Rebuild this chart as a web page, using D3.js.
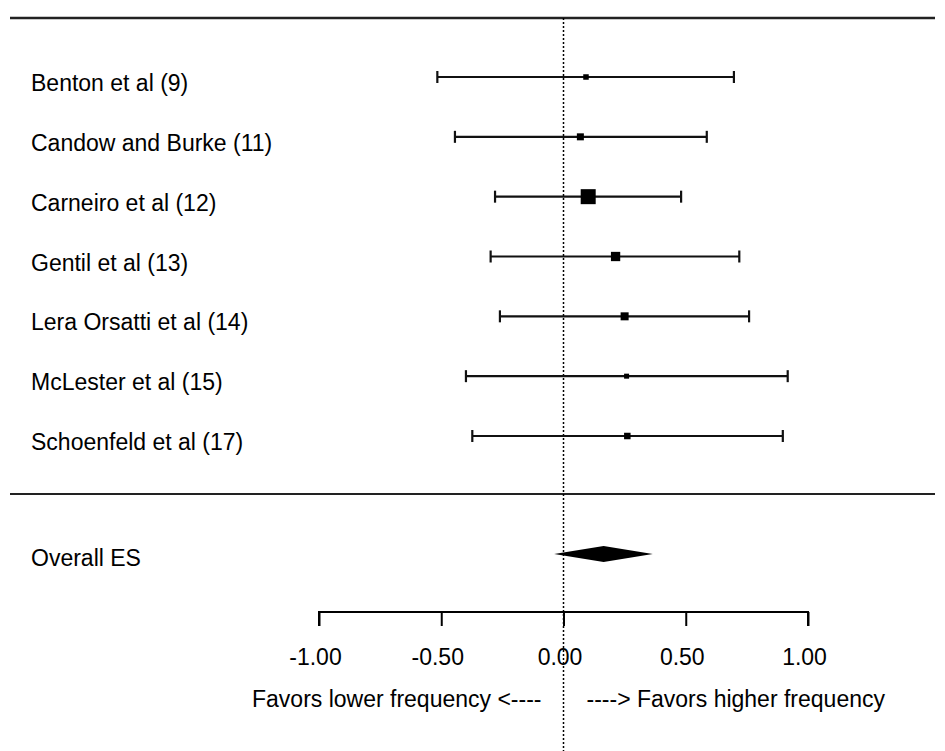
<!DOCTYPE html>
<html>
<head>
<meta charset="utf-8">
<script src="https://cdn.jsdelivr.net/npm/d3@7"></script>
<style>
  html, body { margin: 0; padding: 0; background: #fff; }
  svg { display: block; font-family: "Liberation Sans", Arial, sans-serif; }
</style>
</head>
<body>
<div id="forest"></div>
<script>
// study labels and effect sizes
const studies = ['Benton et al (9)', 'Candow and Burke (11)', 'Carneiro et al (12)', 'Gentil et al (13)',
                 'Lera Orsatti et al (14)', 'McLester et al (15)', 'Schoenfeld et al (17)'];
const estimates = [0.092, 0.069, 0.101, 0.213, 0.250, 0.258, 0.261];
const lowerCI   = [-0.516, -0.444, -0.280, -0.298, -0.260, -0.399, -0.373];
const upperCI   = [0.697, 0.586, 0.481, 0.719, 0.759, 0.917, 0.897];
// relative study weights (box size)
const weights   = [5.5, 7, 15, 9.3, 8, 5, 6.5];

// pooled estimate
const overallLabel = 'Overall ES';
const overall = { est: 0.164, lo: -0.038, hi: 0.365 };

const tickValues = [-1, -0.5, 0, 0.5, 1];
const favorsLeft = 'Favors lower frequency <----';
const favorsRight = '----> Favors higher frequency';

(function(){
  const W = 945, H = 751;
  const svg = d3.select('#forest').append('svg')
    .attr('width', W).attr('height', H).attr('viewBox', `0 0 ${W} ${H}`);

  const x = d3.scaleLinear().domain([-1, 1]).range([319, 808]);
  const y = d3.scalePoint().domain(studies).range([77, 436]);
  const box = d3.scaleLinear().domain([0, d3.max(weights)]).range([0, 15]);
  const yOverall = 554;
  const fs = 23;

  // horizontal rules
  svg.append('line').attr('x1', 10).attr('x2', 935).attr('y1', 18).attr('y2', 18)
    .attr('stroke', '#222').attr('stroke-width', 2.5);
  svg.append('line').attr('x1', 10).attr('x2', 935).attr('y1', 494).attr('y2', 494)
    .attr('stroke', '#222').attr('stroke-width', 2);

  // null effect reference line
  svg.append('line').attr('x1', x(0)).attr('x2', x(0)).attr('y1', 18).attr('y2', H)
    .attr('stroke', '#000').attr('stroke-width', 1.5).attr('stroke-dasharray', '2,2');

  // study labels
  svg.append('g').selectAll('text').data(studies).enter().append('text')
    .attr('x', 31).attr('y', d => y(d) + 14)
    .attr('font-size', fs).attr('fill', '#000')
    .text(d => d);

  // CI lines + caps + boxes
  const rows = svg.append('g').selectAll('g').data(studies).enter().append('g');
  rows.append('line')
    .attr('x1', (d, i) => x(lowerCI[i])).attr('x2', (d, i) => x(upperCI[i]))
    .attr('y1', d => y(d)).attr('y2', d => y(d))
    .attr('stroke', '#111').attr('stroke-width', 2.2);
  [lowerCI, upperCI].forEach(arr => {
    rows.append('line')
      .attr('x1', (d, i) => x(arr[i])).attr('x2', (d, i) => x(arr[i]))
      .attr('y1', d => y(d) - 6).attr('y2', d => y(d) + 6)
      .attr('stroke', '#111').attr('stroke-width', 2.2);
  });
  rows.append('rect')
    .attr('x', (d, i) => x(estimates[i]) - box(weights[i]) / 2)
    .attr('y', (d, i) => y(d) - box(weights[i]) / 2)
    .attr('width', (d, i) => box(weights[i]))
    .attr('height', (d, i) => box(weights[i]))
    .attr('fill', '#000');

  // overall diamond
  svg.append('text').attr('x', 31).attr('y', yOverall + 12)
    .attr('font-size', fs).attr('fill', '#000').text(overallLabel);
  const dh = 8;
  svg.append('path')
    .attr('d', `M${x(overall.lo)},${yOverall} L${x(overall.est)},${yOverall - dh} L${x(overall.hi)},${yOverall} L${x(overall.est)},${yOverall + dh} Z`)
    .attr('fill', '#000');

  // x axis (ASCII hyphen for minus, as in the original)
  const fmt = d3.format('.2f');
  const axis = d3.axisBottom(x).tickValues(tickValues).tickSize(14).tickPadding(0)
    .tickFormat(d => fmt(d).replace('\u2212', '-'));
  const ax = svg.append('g').attr('transform', 'translate(0,612)').call(axis);
  ax.select('.domain').attr('d', `M${x(-1)},14V0H${x(1)}V14`).attr('stroke', '#000').attr('stroke-width', 2);
  ax.selectAll('.tick line').attr('stroke', '#000').attr('stroke-width', 2);
  ax.selectAll('.tick text').attr('font-size', fs).attr('fill', '#000')
    .attr('font-family', '"Liberation Sans", Arial, sans-serif')
    .attr('y', 53).attr('dy', 0).attr('dx', -4);

  // favors labels
  svg.append('text').attr('x', x(0) - 22).attr('y', 707).attr('text-anchor', 'end')
    .attr('font-size', fs).attr('fill', '#000').text(favorsLeft);
  svg.append('text').attr('x', x(0) + 23).attr('y', 707).attr('text-anchor', 'start')
    .attr('font-size', fs).attr('fill', '#000').text(favorsRight);
})();
</script>
</body>
</html>
